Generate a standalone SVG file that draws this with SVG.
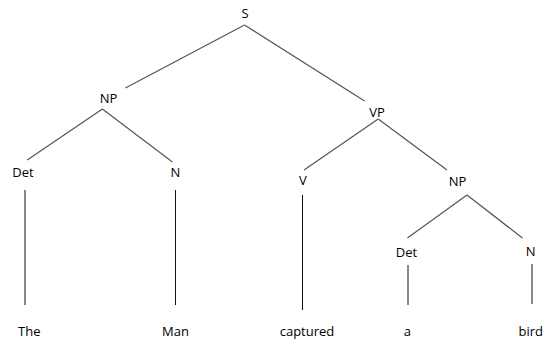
<svg xmlns="http://www.w3.org/2000/svg" width="546" height="340" viewBox="0 0 546 340">
<style>
text{font-family:"Open Sans","Liberation Sans",Arial,sans-serif;font-size:13px;fill:#000;text-anchor:middle}
.d{stroke:#555;stroke-width:1.2;fill:none}
.v{stroke:#111;stroke-width:1;fill:none}
</style>
<rect width="546" height="340" fill="#fff"/>
<g id="connectors">
<line class="d" x1="244.5" y1="25" x2="125.4" y2="88"/>
<line class="d" x1="244.5" y1="25" x2="364.6" y2="101"/>
<line class="d" x1="102.4" y1="109" x2="27.2" y2="160"/>
<line class="d" x1="102.4" y1="109" x2="172.4" y2="162"/>
<line class="d" x1="378.2" y1="119" x2="304" y2="170"/>
<line class="d" x1="378.2" y1="119" x2="447" y2="170"/>
<line class="d" x1="467" y1="195" x2="407.4" y2="238"/>
<line class="d" x1="467" y1="195" x2="522.4" y2="238"/>
<line class="v" x1="25" y1="190" x2="25" y2="305"/>
<line class="v" x1="175.5" y1="190" x2="175.5" y2="305"/>
<line class="v" x1="302.5" y1="195" x2="302.5" y2="310"/>
<line class="v" x1="408" y1="265" x2="408" y2="305"/>
<line class="v" x1="532" y1="264" x2="532" y2="304"/>
</g>
<g id="S"><text x="245" y="18">S</text></g>
<g id="NP1"><text x="108.6" y="103">NP</text></g>
<g id="VP"><text x="377" y="117">VP</text></g>
<g id="Det1"><text x="23" y="177">Det</text></g>
<g id="N1"><text x="175.5" y="177">N</text></g>
<g id="V"><text x="303" y="185">V</text></g>
<g id="NP2"><text x="457.6" y="186">NP</text></g>
<g id="Det2"><text x="406.4" y="257">Det</text></g>
<g id="N2"><text x="530.7" y="256">N</text></g>
<g id="w1"><text x="29.3" y="336">The</text></g>
<g id="w2"><text x="175.5" y="336">Man</text></g>
<g id="w3"><text x="307" y="336">captured</text></g>
<g id="w4"><text x="407.4" y="336">a</text></g>
<g id="w5"><text x="530.7" y="336">bird</text></g>
</svg>
